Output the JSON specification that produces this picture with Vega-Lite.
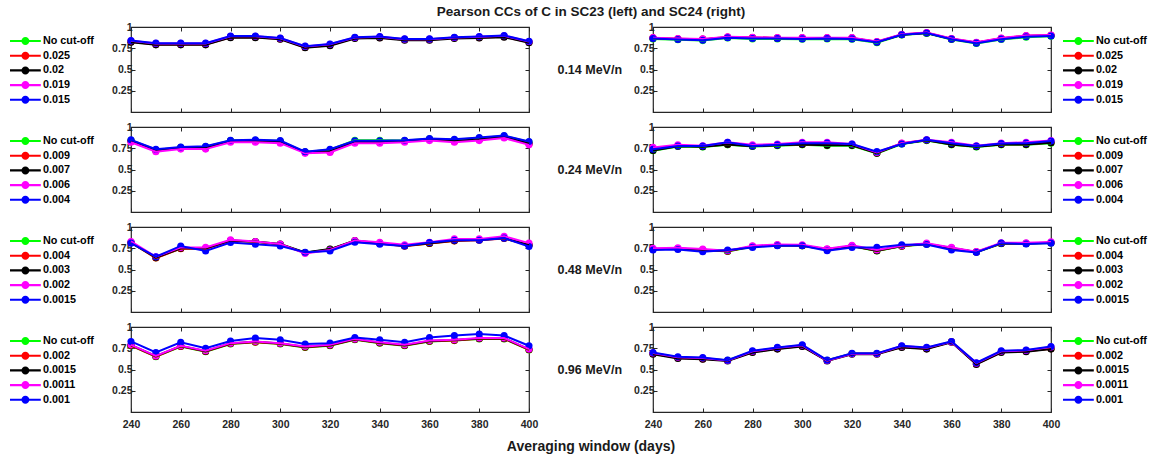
{
"$schema":"https://vega.github.io/schema/vega-lite/v6.json",
"background":"white",
"padding":{"left":9,"top":4,"right":5,"bottom":5},
"title":{"text":"Pearson CCs of C in SC23 (left) and SC24 (right)","fontSize":13.5,"font":"Liberation Sans","fontWeight":"bold","color":"#1a1a1a","anchor":"middle","frame":"group","offset":3,"dx":460},
"bounds":"flush",
"config":{
 "font":"Liberation Sans",
 "view":{"stroke":"#262626","strokeWidth":1.2},
 "axis":{"grid":false,"domain":false,"tickSize":-4,"tickColor":"#262626","tickWidth":1,"labelFlush":false,"labelFont":"Liberation Sans","labelFontWeight":"bold","labelFontSize":10.5,"labelColor":"#262626","labelPadding":3,"titleFont":"Liberation Sans","titleFontWeight":"bold","titleColor":"#1a1a1a"},
 "legend":{"title":null,"symbolType":"M-2.2,-0.15L2.2,-0.15L2.2,0.15L-2.2,0.15Z M-0.57,0A0.57,0.57 0 1,1 0.57,0A0.57,0.57 0 1,1 -0.57,0Z","symbolSize":196,"symbolOffset":8.4,"labelOffset":10.5,"rowPadding":2.7,"symbolStrokeWidth":0,"labelFont":"Liberation Sans","labelFontWeight":"bold","labelFontSize":10.8,"labelColor":"#000000","padding":0}
},
"datasets":{
"L1":[
{"s":"No cut-off","x":240,"y":0.83},{"s":"No cut-off","x":250,"y":0.80},{"s":"No cut-off","x":260,"y":0.80},{"s":"No cut-off","x":270,"y":0.80},{"s":"No cut-off","x":280,"y":0.885},{"s":"No cut-off","x":290,"y":0.885},{"s":"No cut-off","x":300,"y":0.865},{"s":"No cut-off","x":310,"y":0.765},{"s":"No cut-off","x":320,"y":0.79},{"s":"No cut-off","x":330,"y":0.875},{"s":"No cut-off","x":340,"y":0.88},{"s":"No cut-off","x":350,"y":0.855},{"s":"No cut-off","x":360,"y":0.855},{"s":"No cut-off","x":370,"y":0.875},{"s":"No cut-off","x":380,"y":0.88},{"s":"No cut-off","x":390,"y":0.89},{"s":"No cut-off","x":400,"y":0.825},
{"s":"0.025","x":240,"y":0.825},{"s":"0.025","x":250,"y":0.795},{"s":"0.025","x":260,"y":0.795},{"s":"0.025","x":270,"y":0.795},{"s":"0.025","x":280,"y":0.88},{"s":"0.025","x":290,"y":0.88},{"s":"0.025","x":300,"y":0.86},{"s":"0.025","x":310,"y":0.76},{"s":"0.025","x":320,"y":0.785},{"s":"0.025","x":330,"y":0.87},{"s":"0.025","x":340,"y":0.875},{"s":"0.025","x":350,"y":0.85},{"s":"0.025","x":360,"y":0.85},{"s":"0.025","x":370,"y":0.87},{"s":"0.025","x":380,"y":0.875},{"s":"0.025","x":390,"y":0.885},{"s":"0.025","x":400,"y":0.82},
{"s":"0.02","x":240,"y":0.82},{"s":"0.02","x":250,"y":0.79},{"s":"0.02","x":260,"y":0.79},{"s":"0.02","x":270,"y":0.79},{"s":"0.02","x":280,"y":0.875},{"s":"0.02","x":290,"y":0.875},{"s":"0.02","x":300,"y":0.855},{"s":"0.02","x":310,"y":0.755},{"s":"0.02","x":320,"y":0.78},{"s":"0.02","x":330,"y":0.865},{"s":"0.02","x":340,"y":0.87},{"s":"0.02","x":350,"y":0.845},{"s":"0.02","x":360,"y":0.845},{"s":"0.02","x":370,"y":0.865},{"s":"0.02","x":380,"y":0.87},{"s":"0.02","x":390,"y":0.88},{"s":"0.02","x":400,"y":0.815},
{"s":"0.019","x":240,"y":0.837},{"s":"0.019","x":250,"y":0.807},{"s":"0.019","x":260,"y":0.807},{"s":"0.019","x":270,"y":0.807},{"s":"0.019","x":280,"y":0.892},{"s":"0.019","x":290,"y":0.892},{"s":"0.019","x":300,"y":0.867},{"s":"0.019","x":310,"y":0.772},{"s":"0.019","x":320,"y":0.797},{"s":"0.019","x":330,"y":0.877},{"s":"0.019","x":340,"y":0.885},{"s":"0.019","x":350,"y":0.857},{"s":"0.019","x":360,"y":0.857},{"s":"0.019","x":370,"y":0.877},{"s":"0.019","x":380,"y":0.885},{"s":"0.019","x":390,"y":0.897},{"s":"0.019","x":400,"y":0.83},
{"s":"0.015","x":240,"y":0.84},{"s":"0.015","x":250,"y":0.81},{"s":"0.015","x":260,"y":0.81},{"s":"0.015","x":270,"y":0.81},{"s":"0.015","x":280,"y":0.895},{"s":"0.015","x":290,"y":0.895},{"s":"0.015","x":300,"y":0.87},{"s":"0.015","x":310,"y":0.775},{"s":"0.015","x":320,"y":0.80},{"s":"0.015","x":330,"y":0.88},{"s":"0.015","x":340,"y":0.888},{"s":"0.015","x":350,"y":0.86},{"s":"0.015","x":360,"y":0.86},{"s":"0.015","x":370,"y":0.88},{"s":"0.015","x":380,"y":0.888},{"s":"0.015","x":390,"y":0.90},{"s":"0.015","x":400,"y":0.833}
],
"R1":[
{"s":"No cut-off","x":240,"y":0.86},{"s":"No cut-off","x":250,"y":0.85},{"s":"No cut-off","x":260,"y":0.84},{"s":"No cut-off","x":270,"y":0.87},{"s":"No cut-off","x":280,"y":0.86},{"s":"No cut-off","x":290,"y":0.86},{"s":"No cut-off","x":300,"y":0.855},{"s":"No cut-off","x":310,"y":0.86},{"s":"No cut-off","x":320,"y":0.855},{"s":"No cut-off","x":330,"y":0.815},{"s":"No cut-off","x":340,"y":0.905},{"s":"No cut-off","x":350,"y":0.925},{"s":"No cut-off","x":360,"y":0.852},{"s":"No cut-off","x":370,"y":0.805},{"s":"No cut-off","x":380,"y":0.852},{"s":"No cut-off","x":390,"y":0.88},{"s":"No cut-off","x":400,"y":0.89},
{"s":"0.025","x":240,"y":0.872},{"s":"0.025","x":250,"y":0.862},{"s":"0.025","x":260,"y":0.857},{"s":"0.025","x":270,"y":0.882},{"s":"0.025","x":280,"y":0.877},{"s":"0.025","x":290,"y":0.872},{"s":"0.025","x":300,"y":0.872},{"s":"0.025","x":310,"y":0.872},{"s":"0.025","x":320,"y":0.872},{"s":"0.025","x":330,"y":0.827},{"s":"0.025","x":340,"y":0.912},{"s":"0.025","x":350,"y":0.932},{"s":"0.025","x":360,"y":0.862},{"s":"0.025","x":370,"y":0.817},{"s":"0.025","x":380,"y":0.867},{"s":"0.025","x":390,"y":0.897},{"s":"0.025","x":400,"y":0.902},
{"s":"0.02","x":240,"y":0.869},{"s":"0.02","x":250,"y":0.859},{"s":"0.02","x":260,"y":0.854},{"s":"0.02","x":270,"y":0.879},{"s":"0.02","x":280,"y":0.874},{"s":"0.02","x":290,"y":0.869},{"s":"0.02","x":300,"y":0.869},{"s":"0.02","x":310,"y":0.869},{"s":"0.02","x":320,"y":0.869},{"s":"0.02","x":330,"y":0.824},{"s":"0.02","x":340,"y":0.909},{"s":"0.02","x":350,"y":0.929},{"s":"0.02","x":360,"y":0.859},{"s":"0.02","x":370,"y":0.814},{"s":"0.02","x":380,"y":0.864},{"s":"0.02","x":390,"y":0.894},{"s":"0.02","x":400,"y":0.899},
{"s":"0.019","x":240,"y":0.875},{"s":"0.019","x":250,"y":0.865},{"s":"0.019","x":260,"y":0.86},{"s":"0.019","x":270,"y":0.885},{"s":"0.019","x":280,"y":0.88},{"s":"0.019","x":290,"y":0.875},{"s":"0.019","x":300,"y":0.875},{"s":"0.019","x":310,"y":0.875},{"s":"0.019","x":320,"y":0.875},{"s":"0.019","x":330,"y":0.83},{"s":"0.019","x":340,"y":0.915},{"s":"0.019","x":350,"y":0.935},{"s":"0.019","x":360,"y":0.865},{"s":"0.019","x":370,"y":0.82},{"s":"0.019","x":380,"y":0.87},{"s":"0.019","x":390,"y":0.90},{"s":"0.019","x":400,"y":0.905},
{"s":"0.015","x":240,"y":0.865},{"s":"0.015","x":250,"y":0.853},{"s":"0.015","x":260,"y":0.845},{"s":"0.015","x":270,"y":0.873},{"s":"0.015","x":280,"y":0.865},{"s":"0.015","x":290,"y":0.865},{"s":"0.015","x":300,"y":0.86},{"s":"0.015","x":310,"y":0.865},{"s":"0.015","x":320,"y":0.86},{"s":"0.015","x":330,"y":0.82},{"s":"0.015","x":340,"y":0.908},{"s":"0.015","x":350,"y":0.93},{"s":"0.015","x":360,"y":0.857},{"s":"0.015","x":370,"y":0.81},{"s":"0.015","x":380,"y":0.857},{"s":"0.015","x":390,"y":0.885},{"s":"0.015","x":400,"y":0.895}
],
"L2":[
{"s":"No cut-off","x":240,"y":0.844},{"s":"No cut-off","x":250,"y":0.733},{"s":"No cut-off","x":260,"y":0.76},{"s":"No cut-off","x":270,"y":0.769},{"s":"No cut-off","x":280,"y":0.84},{"s":"No cut-off","x":290,"y":0.845},{"s":"No cut-off","x":300,"y":0.835},{"s":"No cut-off","x":310,"y":0.705},{"s":"No cut-off","x":320,"y":0.733},{"s":"No cut-off","x":330,"y":0.845},{"s":"No cut-off","x":340,"y":0.845},{"s":"No cut-off","x":350,"y":0.84},{"s":"No cut-off","x":360,"y":0.86},{"s":"No cut-off","x":370,"y":0.85},{"s":"No cut-off","x":380,"y":0.871},{"s":"No cut-off","x":390,"y":0.895},{"s":"No cut-off","x":400,"y":0.824},
{"s":"0.009","x":240,"y":0.83},{"s":"0.009","x":250,"y":0.72},{"s":"0.009","x":260,"y":0.75},{"s":"0.009","x":270,"y":0.75},{"s":"0.009","x":280,"y":0.83},{"s":"0.009","x":290,"y":0.83},{"s":"0.009","x":300,"y":0.82},{"s":"0.009","x":310,"y":0.70},{"s":"0.009","x":320,"y":0.71},{"s":"0.009","x":330,"y":0.82},{"s":"0.009","x":340,"y":0.82},{"s":"0.009","x":350,"y":0.83},{"s":"0.009","x":360,"y":0.85},{"s":"0.009","x":370,"y":0.83},{"s":"0.009","x":380,"y":0.85},{"s":"0.009","x":390,"y":0.88},{"s":"0.009","x":400,"y":0.80},
{"s":"0.007","x":240,"y":0.835},{"s":"0.007","x":250,"y":0.725},{"s":"0.007","x":260,"y":0.755},{"s":"0.007","x":270,"y":0.755},{"s":"0.007","x":280,"y":0.835},{"s":"0.007","x":290,"y":0.835},{"s":"0.007","x":300,"y":0.825},{"s":"0.007","x":310,"y":0.705},{"s":"0.007","x":320,"y":0.715},{"s":"0.007","x":330,"y":0.825},{"s":"0.007","x":340,"y":0.825},{"s":"0.007","x":350,"y":0.835},{"s":"0.007","x":360,"y":0.855},{"s":"0.007","x":370,"y":0.835},{"s":"0.007","x":380,"y":0.855},{"s":"0.007","x":390,"y":0.885},{"s":"0.007","x":400,"y":0.805},
{"s":"0.006","x":240,"y":0.82},{"s":"0.006","x":250,"y":0.71},{"s":"0.006","x":260,"y":0.74},{"s":"0.006","x":270,"y":0.74},{"s":"0.006","x":280,"y":0.82},{"s":"0.006","x":290,"y":0.82},{"s":"0.006","x":300,"y":0.81},{"s":"0.006","x":310,"y":0.69},{"s":"0.006","x":320,"y":0.70},{"s":"0.006","x":330,"y":0.81},{"s":"0.006","x":340,"y":0.81},{"s":"0.006","x":350,"y":0.82},{"s":"0.006","x":360,"y":0.84},{"s":"0.006","x":370,"y":0.82},{"s":"0.006","x":380,"y":0.84},{"s":"0.006","x":390,"y":0.87},{"s":"0.006","x":400,"y":0.79},
{"s":"0.004","x":240,"y":0.849},{"s":"0.004","x":250,"y":0.738},{"s":"0.004","x":260,"y":0.765},{"s":"0.004","x":270,"y":0.774},{"s":"0.004","x":280,"y":0.845},{"s":"0.004","x":290,"y":0.85},{"s":"0.004","x":300,"y":0.84},{"s":"0.004","x":310,"y":0.71},{"s":"0.004","x":320,"y":0.738},{"s":"0.004","x":330,"y":0.837},{"s":"0.004","x":340,"y":0.837},{"s":"0.004","x":350,"y":0.845},{"s":"0.004","x":360,"y":0.865},{"s":"0.004","x":370,"y":0.855},{"s":"0.004","x":380,"y":0.876},{"s":"0.004","x":390,"y":0.90},{"s":"0.004","x":400,"y":0.829}
],
"R2":[
{"s":"No cut-off","x":240,"y":0.72},{"s":"No cut-off","x":250,"y":0.77},{"s":"No cut-off","x":260,"y":0.765},{"s":"No cut-off","x":270,"y":0.79},{"s":"No cut-off","x":280,"y":0.77},{"s":"No cut-off","x":290,"y":0.78},{"s":"No cut-off","x":300,"y":0.79},{"s":"No cut-off","x":310,"y":0.78},{"s":"No cut-off","x":320,"y":0.78},{"s":"No cut-off","x":330,"y":0.69},{"s":"No cut-off","x":340,"y":0.80},{"s":"No cut-off","x":350,"y":0.84},{"s":"No cut-off","x":360,"y":0.79},{"s":"No cut-off","x":370,"y":0.765},{"s":"No cut-off","x":380,"y":0.79},{"s":"No cut-off","x":390,"y":0.79},{"s":"No cut-off","x":400,"y":0.81},
{"s":"0.009","x":240,"y":0.728},{"s":"0.009","x":250,"y":0.778},{"s":"0.009","x":260,"y":0.773},{"s":"0.009","x":270,"y":0.798},{"s":"0.009","x":280,"y":0.778},{"s":"0.009","x":290,"y":0.788},{"s":"0.009","x":300,"y":0.798},{"s":"0.009","x":310,"y":0.788},{"s":"0.009","x":320,"y":0.788},{"s":"0.009","x":330,"y":0.695},{"s":"0.009","x":340,"y":0.808},{"s":"0.009","x":350,"y":0.848},{"s":"0.009","x":360,"y":0.798},{"s":"0.009","x":370,"y":0.773},{"s":"0.009","x":380,"y":0.798},{"s":"0.009","x":390,"y":0.798},{"s":"0.009","x":400,"y":0.818},
{"s":"0.007","x":240,"y":0.724},{"s":"0.007","x":250,"y":0.774},{"s":"0.007","x":260,"y":0.769},{"s":"0.007","x":270,"y":0.794},{"s":"0.007","x":280,"y":0.774},{"s":"0.007","x":290,"y":0.784},{"s":"0.007","x":300,"y":0.794},{"s":"0.007","x":310,"y":0.784},{"s":"0.007","x":320,"y":0.784},{"s":"0.007","x":330,"y":0.692},{"s":"0.007","x":340,"y":0.804},{"s":"0.007","x":350,"y":0.844},{"s":"0.007","x":360,"y":0.794},{"s":"0.007","x":370,"y":0.769},{"s":"0.007","x":380,"y":0.794},{"s":"0.007","x":390,"y":0.794},{"s":"0.007","x":400,"y":0.814},
{"s":"0.006","x":240,"y":0.76},{"s":"0.006","x":250,"y":0.79},{"s":"0.006","x":260,"y":0.78},{"s":"0.006","x":270,"y":0.82},{"s":"0.006","x":280,"y":0.79},{"s":"0.006","x":290,"y":0.80},{"s":"0.006","x":300,"y":0.82},{"s":"0.006","x":310,"y":0.82},{"s":"0.006","x":320,"y":0.80},{"s":"0.006","x":330,"y":0.70},{"s":"0.006","x":340,"y":0.81},{"s":"0.006","x":350,"y":0.85},{"s":"0.006","x":360,"y":0.82},{"s":"0.006","x":370,"y":0.78},{"s":"0.006","x":380,"y":0.81},{"s":"0.006","x":390,"y":0.82},{"s":"0.006","x":400,"y":0.84},
{"s":"0.004","x":240,"y":0.738},{"s":"0.004","x":250,"y":0.777},{"s":"0.004","x":260,"y":0.777},{"s":"0.004","x":270,"y":0.82},{"s":"0.004","x":280,"y":0.777},{"s":"0.004","x":290,"y":0.79},{"s":"0.004","x":300,"y":0.81},{"s":"0.004","x":310,"y":0.81},{"s":"0.004","x":320,"y":0.80},{"s":"0.004","x":330,"y":0.71},{"s":"0.004","x":340,"y":0.80},{"s":"0.004","x":350,"y":0.849},{"s":"0.004","x":360,"y":0.81},{"s":"0.004","x":370,"y":0.777},{"s":"0.004","x":380,"y":0.805},{"s":"0.004","x":390,"y":0.81},{"s":"0.004","x":400,"y":0.835}
],
"L3":[
{"s":"No cut-off","x":240,"y":0.817},{"s":"No cut-off","x":250,"y":0.637},{"s":"No cut-off","x":260,"y":0.747},{"s":"No cut-off","x":270,"y":0.747},{"s":"No cut-off","x":280,"y":0.837},{"s":"No cut-off","x":290,"y":0.827},{"s":"No cut-off","x":300,"y":0.797},{"s":"No cut-off","x":310,"y":0.697},{"s":"No cut-off","x":320,"y":0.737},{"s":"No cut-off","x":330,"y":0.837},{"s":"No cut-off","x":340,"y":0.807},{"s":"No cut-off","x":350,"y":0.777},{"s":"No cut-off","x":360,"y":0.807},{"s":"No cut-off","x":370,"y":0.837},{"s":"No cut-off","x":380,"y":0.847},{"s":"No cut-off","x":390,"y":0.867},{"s":"No cut-off","x":400,"y":0.787},
{"s":"0.004","x":240,"y":0.815},{"s":"0.004","x":250,"y":0.635},{"s":"0.004","x":260,"y":0.745},{"s":"0.004","x":270,"y":0.745},{"s":"0.004","x":280,"y":0.835},{"s":"0.004","x":290,"y":0.825},{"s":"0.004","x":300,"y":0.795},{"s":"0.004","x":310,"y":0.695},{"s":"0.004","x":320,"y":0.735},{"s":"0.004","x":330,"y":0.835},{"s":"0.004","x":340,"y":0.805},{"s":"0.004","x":350,"y":0.775},{"s":"0.004","x":360,"y":0.805},{"s":"0.004","x":370,"y":0.835},{"s":"0.004","x":380,"y":0.845},{"s":"0.004","x":390,"y":0.865},{"s":"0.004","x":400,"y":0.785},
{"s":"0.003","x":240,"y":0.82},{"s":"0.003","x":250,"y":0.64},{"s":"0.003","x":260,"y":0.75},{"s":"0.003","x":270,"y":0.75},{"s":"0.003","x":280,"y":0.84},{"s":"0.003","x":290,"y":0.83},{"s":"0.003","x":300,"y":0.80},{"s":"0.003","x":310,"y":0.70},{"s":"0.003","x":320,"y":0.74},{"s":"0.003","x":330,"y":0.84},{"s":"0.003","x":340,"y":0.81},{"s":"0.003","x":350,"y":0.78},{"s":"0.003","x":360,"y":0.81},{"s":"0.003","x":370,"y":0.84},{"s":"0.003","x":380,"y":0.85},{"s":"0.003","x":390,"y":0.87},{"s":"0.003","x":400,"y":0.79},
{"s":"0.002","x":240,"y":0.83},{"s":"0.002","x":250,"y":0.65},{"s":"0.002","x":260,"y":0.76},{"s":"0.002","x":270,"y":0.76},{"s":"0.002","x":280,"y":0.85},{"s":"0.002","x":290,"y":0.83},{"s":"0.002","x":300,"y":0.80},{"s":"0.002","x":310,"y":0.69},{"s":"0.002","x":320,"y":0.73},{"s":"0.002","x":330,"y":0.84},{"s":"0.002","x":340,"y":0.82},{"s":"0.002","x":350,"y":0.79},{"s":"0.002","x":360,"y":0.82},{"s":"0.002","x":370,"y":0.86},{"s":"0.002","x":380,"y":0.86},{"s":"0.002","x":390,"y":0.89},{"s":"0.002","x":400,"y":0.81},
{"s":"0.0015","x":240,"y":0.81},{"s":"0.0015","x":250,"y":0.65},{"s":"0.0015","x":260,"y":0.777},{"s":"0.0015","x":270,"y":0.718},{"s":"0.0015","x":280,"y":0.817},{"s":"0.0015","x":290,"y":0.797},{"s":"0.0015","x":300,"y":0.777},{"s":"0.0015","x":310,"y":0.702},{"s":"0.0015","x":320,"y":0.718},{"s":"0.0015","x":330,"y":0.82},{"s":"0.0015","x":340,"y":0.797},{"s":"0.0015","x":350,"y":0.777},{"s":"0.0015","x":360,"y":0.817},{"s":"0.0015","x":370,"y":0.845},{"s":"0.0015","x":380,"y":0.845},{"s":"0.0015","x":390,"y":0.869},{"s":"0.0015","x":400,"y":0.77}
],
"R3":[
{"s":"No cut-off","x":240,"y":0.738},{"s":"No cut-off","x":250,"y":0.743},{"s":"No cut-off","x":260,"y":0.728},{"s":"No cut-off","x":270,"y":0.713},{"s":"No cut-off","x":280,"y":0.768},{"s":"No cut-off","x":290,"y":0.783},{"s":"No cut-off","x":300,"y":0.778},{"s":"No cut-off","x":310,"y":0.733},{"s":"No cut-off","x":320,"y":0.773},{"s":"No cut-off","x":330,"y":0.718},{"s":"No cut-off","x":340,"y":0.773},{"s":"No cut-off","x":350,"y":0.798},{"s":"No cut-off","x":360,"y":0.748},{"s":"No cut-off","x":370,"y":0.703},{"s":"No cut-off","x":380,"y":0.803},{"s":"No cut-off","x":390,"y":0.803},{"s":"No cut-off","x":400,"y":0.813},
{"s":"0.004","x":240,"y":0.74},{"s":"0.004","x":250,"y":0.745},{"s":"0.004","x":260,"y":0.73},{"s":"0.004","x":270,"y":0.715},{"s":"0.004","x":280,"y":0.77},{"s":"0.004","x":290,"y":0.785},{"s":"0.004","x":300,"y":0.78},{"s":"0.004","x":310,"y":0.735},{"s":"0.004","x":320,"y":0.775},{"s":"0.004","x":330,"y":0.72},{"s":"0.004","x":340,"y":0.775},{"s":"0.004","x":350,"y":0.80},{"s":"0.004","x":360,"y":0.75},{"s":"0.004","x":370,"y":0.705},{"s":"0.004","x":380,"y":0.805},{"s":"0.004","x":390,"y":0.805},{"s":"0.004","x":400,"y":0.815},
{"s":"0.003","x":240,"y":0.742},{"s":"0.003","x":250,"y":0.747},{"s":"0.003","x":260,"y":0.732},{"s":"0.003","x":270,"y":0.717},{"s":"0.003","x":280,"y":0.772},{"s":"0.003","x":290,"y":0.787},{"s":"0.003","x":300,"y":0.782},{"s":"0.003","x":310,"y":0.737},{"s":"0.003","x":320,"y":0.777},{"s":"0.003","x":330,"y":0.722},{"s":"0.003","x":340,"y":0.777},{"s":"0.003","x":350,"y":0.802},{"s":"0.003","x":360,"y":0.752},{"s":"0.003","x":370,"y":0.707},{"s":"0.003","x":380,"y":0.807},{"s":"0.003","x":390,"y":0.807},{"s":"0.003","x":400,"y":0.817},
{"s":"0.002","x":240,"y":0.75},{"s":"0.002","x":250,"y":0.755},{"s":"0.002","x":260,"y":0.74},{"s":"0.002","x":270,"y":0.72},{"s":"0.002","x":280,"y":0.78},{"s":"0.002","x":290,"y":0.795},{"s":"0.002","x":300,"y":0.79},{"s":"0.002","x":310,"y":0.745},{"s":"0.002","x":320,"y":0.785},{"s":"0.002","x":330,"y":0.73},{"s":"0.002","x":340,"y":0.78},{"s":"0.002","x":350,"y":0.81},{"s":"0.002","x":360,"y":0.76},{"s":"0.002","x":370,"y":0.71},{"s":"0.002","x":380,"y":0.815},{"s":"0.002","x":390,"y":0.815},{"s":"0.002","x":400,"y":0.825},
{"s":"0.0015","x":240,"y":0.73},{"s":"0.0015","x":250,"y":0.735},{"s":"0.0015","x":260,"y":0.71},{"s":"0.0015","x":270,"y":0.73},{"s":"0.0015","x":280,"y":0.76},{"s":"0.0015","x":290,"y":0.78},{"s":"0.0015","x":300,"y":0.78},{"s":"0.0015","x":310,"y":0.72},{"s":"0.0015","x":320,"y":0.76},{"s":"0.0015","x":330,"y":0.76},{"s":"0.0015","x":340,"y":0.79},{"s":"0.0015","x":350,"y":0.795},{"s":"0.0015","x":360,"y":0.73},{"s":"0.0015","x":370,"y":0.70},{"s":"0.0015","x":380,"y":0.81},{"s":"0.0015","x":390,"y":0.80},{"s":"0.0015","x":400,"y":0.81}
],
"L4":[
{"s":"No cut-off","x":240,"y":0.78},{"s":"No cut-off","x":250,"y":0.65},{"s":"No cut-off","x":260,"y":0.77},{"s":"No cut-off","x":270,"y":0.71},{"s":"No cut-off","x":280,"y":0.80},{"s":"No cut-off","x":290,"y":0.82},{"s":"No cut-off","x":300,"y":0.80},{"s":"No cut-off","x":310,"y":0.76},{"s":"No cut-off","x":320,"y":0.78},{"s":"No cut-off","x":330,"y":0.85},{"s":"No cut-off","x":340,"y":0.81},{"s":"No cut-off","x":350,"y":0.78},{"s":"No cut-off","x":360,"y":0.83},{"s":"No cut-off","x":370,"y":0.84},{"s":"No cut-off","x":380,"y":0.86},{"s":"No cut-off","x":390,"y":0.86},{"s":"No cut-off","x":400,"y":0.73},
{"s":"0.002","x":240,"y":0.782},{"s":"0.002","x":250,"y":0.652},{"s":"0.002","x":260,"y":0.772},{"s":"0.002","x":270,"y":0.712},{"s":"0.002","x":280,"y":0.802},{"s":"0.002","x":290,"y":0.822},{"s":"0.002","x":300,"y":0.802},{"s":"0.002","x":310,"y":0.762},{"s":"0.002","x":320,"y":0.782},{"s":"0.002","x":330,"y":0.852},{"s":"0.002","x":340,"y":0.812},{"s":"0.002","x":350,"y":0.782},{"s":"0.002","x":360,"y":0.832},{"s":"0.002","x":370,"y":0.842},{"s":"0.002","x":380,"y":0.862},{"s":"0.002","x":390,"y":0.862},{"s":"0.002","x":400,"y":0.732},
{"s":"0.0015","x":240,"y":0.786},{"s":"0.0015","x":250,"y":0.656},{"s":"0.0015","x":260,"y":0.776},{"s":"0.0015","x":270,"y":0.716},{"s":"0.0015","x":280,"y":0.806},{"s":"0.0015","x":290,"y":0.826},{"s":"0.0015","x":300,"y":0.806},{"s":"0.0015","x":310,"y":0.766},{"s":"0.0015","x":320,"y":0.786},{"s":"0.0015","x":330,"y":0.856},{"s":"0.0015","x":340,"y":0.816},{"s":"0.0015","x":350,"y":0.786},{"s":"0.0015","x":360,"y":0.836},{"s":"0.0015","x":370,"y":0.846},{"s":"0.0015","x":380,"y":0.866},{"s":"0.0015","x":390,"y":0.866},{"s":"0.0015","x":400,"y":0.736},
{"s":"0.0011","x":240,"y":0.79},{"s":"0.0011","x":250,"y":0.66},{"s":"0.0011","x":260,"y":0.78},{"s":"0.0011","x":270,"y":0.72},{"s":"0.0011","x":280,"y":0.81},{"s":"0.0011","x":290,"y":0.83},{"s":"0.0011","x":300,"y":0.81},{"s":"0.0011","x":310,"y":0.77},{"s":"0.0011","x":320,"y":0.79},{"s":"0.0011","x":330,"y":0.86},{"s":"0.0011","x":340,"y":0.82},{"s":"0.0011","x":350,"y":0.79},{"s":"0.0011","x":360,"y":0.84},{"s":"0.0011","x":370,"y":0.85},{"s":"0.0011","x":380,"y":0.87},{"s":"0.0011","x":390,"y":0.87},{"s":"0.0011","x":400,"y":0.74},
{"s":"0.001","x":240,"y":0.83},{"s":"0.001","x":250,"y":0.70},{"s":"0.001","x":260,"y":0.82},{"s":"0.001","x":270,"y":0.75},{"s":"0.001","x":280,"y":0.835},{"s":"0.001","x":290,"y":0.87},{"s":"0.001","x":300,"y":0.85},{"s":"0.001","x":310,"y":0.80},{"s":"0.001","x":320,"y":0.81},{"s":"0.001","x":330,"y":0.877},{"s":"0.001","x":340,"y":0.85},{"s":"0.001","x":350,"y":0.82},{"s":"0.001","x":360,"y":0.877},{"s":"0.001","x":370,"y":0.90},{"s":"0.001","x":380,"y":0.918},{"s":"0.001","x":390,"y":0.90},{"s":"0.001","x":400,"y":0.78}
],
"R4":[
{"s":"No cut-off","x":240,"y":0.688},{"s":"No cut-off","x":250,"y":0.638},{"s":"No cut-off","x":260,"y":0.628},{"s":"No cut-off","x":270,"y":0.608},{"s":"No cut-off","x":280,"y":0.708},{"s":"No cut-off","x":290,"y":0.748},{"s":"No cut-off","x":300,"y":0.778},{"s":"No cut-off","x":310,"y":0.608},{"s":"No cut-off","x":320,"y":0.688},{"s":"No cut-off","x":330,"y":0.688},{"s":"No cut-off","x":340,"y":0.768},{"s":"No cut-off","x":350,"y":0.748},{"s":"No cut-off","x":360,"y":0.828},{"s":"No cut-off","x":370,"y":0.568},{"s":"No cut-off","x":380,"y":0.708},{"s":"No cut-off","x":390,"y":0.718},{"s":"No cut-off","x":400,"y":0.748},
{"s":"0.002","x":240,"y":0.685},{"s":"0.002","x":250,"y":0.635},{"s":"0.002","x":260,"y":0.625},{"s":"0.002","x":270,"y":0.605},{"s":"0.002","x":280,"y":0.705},{"s":"0.002","x":290,"y":0.745},{"s":"0.002","x":300,"y":0.775},{"s":"0.002","x":310,"y":0.605},{"s":"0.002","x":320,"y":0.685},{"s":"0.002","x":330,"y":0.685},{"s":"0.002","x":340,"y":0.765},{"s":"0.002","x":350,"y":0.745},{"s":"0.002","x":360,"y":0.825},{"s":"0.002","x":370,"y":0.565},{"s":"0.002","x":380,"y":0.705},{"s":"0.002","x":390,"y":0.715},{"s":"0.002","x":400,"y":0.745},
{"s":"0.0015","x":240,"y":0.68},{"s":"0.0015","x":250,"y":0.63},{"s":"0.0015","x":260,"y":0.62},{"s":"0.0015","x":270,"y":0.60},{"s":"0.0015","x":280,"y":0.70},{"s":"0.0015","x":290,"y":0.74},{"s":"0.0015","x":300,"y":0.77},{"s":"0.0015","x":310,"y":0.60},{"s":"0.0015","x":320,"y":0.68},{"s":"0.0015","x":330,"y":0.68},{"s":"0.0015","x":340,"y":0.76},{"s":"0.0015","x":350,"y":0.74},{"s":"0.0015","x":360,"y":0.82},{"s":"0.0015","x":370,"y":0.56},{"s":"0.0015","x":380,"y":0.70},{"s":"0.0015","x":390,"y":0.71},{"s":"0.0015","x":400,"y":0.74},
{"s":"0.0011","x":240,"y":0.695},{"s":"0.0011","x":250,"y":0.645},{"s":"0.0011","x":260,"y":0.635},{"s":"0.0011","x":270,"y":0.605},{"s":"0.0011","x":280,"y":0.715},{"s":"0.0011","x":290,"y":0.755},{"s":"0.0011","x":300,"y":0.785},{"s":"0.0011","x":310,"y":0.605},{"s":"0.0011","x":320,"y":0.685},{"s":"0.0011","x":330,"y":0.685},{"s":"0.0011","x":340,"y":0.775},{"s":"0.0011","x":350,"y":0.755},{"s":"0.0011","x":360,"y":0.825},{"s":"0.0011","x":370,"y":0.575},{"s":"0.0011","x":380,"y":0.715},{"s":"0.0011","x":390,"y":0.725},{"s":"0.0011","x":400,"y":0.765},
{"s":"0.001","x":240,"y":0.70},{"s":"0.001","x":250,"y":0.65},{"s":"0.001","x":260,"y":0.64},{"s":"0.001","x":270,"y":0.61},{"s":"0.001","x":280,"y":0.72},{"s":"0.001","x":290,"y":0.76},{"s":"0.001","x":300,"y":0.79},{"s":"0.001","x":310,"y":0.61},{"s":"0.001","x":320,"y":0.69},{"s":"0.001","x":330,"y":0.69},{"s":"0.001","x":340,"y":0.78},{"s":"0.001","x":350,"y":0.76},{"s":"0.001","x":360,"y":0.83},{"s":"0.001","x":370,"y":0.58},{"s":"0.001","x":380,"y":0.72},{"s":"0.001","x":390,"y":0.73},{"s":"0.001","x":400,"y":0.77}
]
},
"vconcat":[{
"title":{"text":"Averaging window (days)","orient":"bottom","fontSize":14,"font":"Liberation Sans","fontWeight":"bold","color":"#1a1a1a","anchor":"middle","frame":"group","offset":10,"dx":460},
"columns":2,
"spacing":{"row":15,"column":124},
"bounds":"flush",
"resolve":{"scale":{"color":"independent"}},
"concat":[
{"width":398,"height":85,"data":{"name":"L1"},"layer":[
 {"mark":{"type":"point","filled":true,"size":50,"opacity":1,"clip":false},"encoding":{
  "x":{"field":"x","type":"quantitative","scale":{"domain":[240,400],"nice":false,"zero":false},"axis":{"values":[240,260,280,300,320,340,360,380,400],"labels":false,"title":null}},
  "y":{"field":"y","type":"quantitative","scale":{"domain":[0,1],"nice":false},"axis":{"values":[0.25,0.5,0.75,1],"labelExpr":"''+datum.value","title":null}},
  "color":{"field":"s","type":"nominal","scale":{"domain":["No cut-off","0.025","0.02","0.019","0.015"],"range":["#00ff00","#ff0000","#000000","#ff00ff","#0000ff"]},"legend":{"orient":"none","legendX":-121,"legendY":7}}}},
 {"mark":{"type":"line","strokeWidth":2,"clip":false},"encoding":{
  "x":{"field":"x","type":"quantitative","scale":{"domain":[240,400],"nice":false,"zero":false},"axis":{"orient":"top","values":[240,260,280,300,320,340,360,380,400],"labels":false,"title":null}},
  "y":{"field":"y","type":"quantitative","scale":{"domain":[0,1],"nice":false},"axis":{"orient":"right","values":[0.25,0.5,0.75,1],"labels":false,"title":null}},
  "color":{"field":"s","type":"nominal","scale":{"domain":["No cut-off","0.025","0.02","0.019","0.015"],"range":["#00ff00","#ff0000","#000000","#ff00ff","#0000ff"]},"legend":{"orient":"none","legendX":-121,"legendY":7}}}}
 ],"resolve":{"axis":{"x":"independent","y":"independent"}}},
{"width":398,"height":85,"data":{"name":"R1"},"layer":[
 {"mark":{"type":"point","filled":true,"size":50,"opacity":1,"clip":false},"encoding":{
  "x":{"field":"x","type":"quantitative","scale":{"domain":[240,400],"nice":false,"zero":false},"axis":{"values":[240,260,280,300,320,340,360,380,400],"labels":false,"title":null}},
  "y":{"field":"y","type":"quantitative","scale":{"domain":[0,1],"nice":false},"axis":{"values":[0.25,0.5,0.75,1],"labelExpr":"''+datum.value","title":"0.14 MeV/n","titleAngle":0,"titleAlign":"right","titleBaseline":"middle","titlePadding":12,"titleFontSize":12.5}},
  "color":{"field":"s","type":"nominal","scale":{"domain":["No cut-off","0.025","0.02","0.019","0.015"],"range":["#00ff00","#ff0000","#000000","#ff00ff","#0000ff"]},"legend":{"orient":"none","legendX":410,"legendY":7}}}},
 {"mark":{"type":"line","strokeWidth":2,"clip":false},"encoding":{
  "x":{"field":"x","type":"quantitative","scale":{"domain":[240,400],"nice":false,"zero":false},"axis":{"orient":"top","values":[240,260,280,300,320,340,360,380,400],"labels":false,"title":null}},
  "y":{"field":"y","type":"quantitative","scale":{"domain":[0,1],"nice":false},"axis":{"orient":"right","values":[0.25,0.5,0.75,1],"labels":false,"title":null}},
  "color":{"field":"s","type":"nominal","scale":{"domain":["No cut-off","0.025","0.02","0.019","0.015"],"range":["#00ff00","#ff0000","#000000","#ff00ff","#0000ff"]},"legend":{"orient":"none","legendX":410,"legendY":7}}}}
 ],"resolve":{"axis":{"x":"independent","y":"independent"}}},
{"width":398,"height":85,"data":{"name":"L2"},"layer":[
 {"mark":{"type":"point","filled":true,"size":50,"opacity":1,"clip":false},"encoding":{
  "x":{"field":"x","type":"quantitative","scale":{"domain":[240,400],"nice":false,"zero":false},"axis":{"values":[240,260,280,300,320,340,360,380,400],"labels":false,"title":null}},
  "y":{"field":"y","type":"quantitative","scale":{"domain":[0,1],"nice":false},"axis":{"values":[0.25,0.5,0.75,1],"labelExpr":"''+datum.value","title":null}},
  "color":{"field":"s","type":"nominal","scale":{"domain":["No cut-off","0.009","0.007","0.006","0.004"],"range":["#00ff00","#ff0000","#000000","#ff00ff","#0000ff"]},"legend":{"orient":"none","legendX":-121,"legendY":7}}}},
 {"mark":{"type":"line","strokeWidth":2,"clip":false},"encoding":{
  "x":{"field":"x","type":"quantitative","scale":{"domain":[240,400],"nice":false,"zero":false},"axis":{"orient":"top","values":[240,260,280,300,320,340,360,380,400],"labels":false,"title":null}},
  "y":{"field":"y","type":"quantitative","scale":{"domain":[0,1],"nice":false},"axis":{"orient":"right","values":[0.25,0.5,0.75,1],"labels":false,"title":null}},
  "color":{"field":"s","type":"nominal","scale":{"domain":["No cut-off","0.009","0.007","0.006","0.004"],"range":["#00ff00","#ff0000","#000000","#ff00ff","#0000ff"]},"legend":{"orient":"none","legendX":-121,"legendY":7}}}}
 ],"resolve":{"axis":{"x":"independent","y":"independent"}}},
{"width":398,"height":85,"data":{"name":"R2"},"layer":[
 {"mark":{"type":"point","filled":true,"size":50,"opacity":1,"clip":false},"encoding":{
  "x":{"field":"x","type":"quantitative","scale":{"domain":[240,400],"nice":false,"zero":false},"axis":{"values":[240,260,280,300,320,340,360,380,400],"labels":false,"title":null}},
  "y":{"field":"y","type":"quantitative","scale":{"domain":[0,1],"nice":false},"axis":{"values":[0.25,0.5,0.75,1],"labelExpr":"''+datum.value","title":"0.24 MeV/n","titleAngle":0,"titleAlign":"right","titleBaseline":"middle","titlePadding":12,"titleFontSize":12.5}},
  "color":{"field":"s","type":"nominal","scale":{"domain":["No cut-off","0.009","0.007","0.006","0.004"],"range":["#00ff00","#ff0000","#000000","#ff00ff","#0000ff"]},"legend":{"orient":"none","legendX":410,"legendY":7}}}},
 {"mark":{"type":"line","strokeWidth":2,"clip":false},"encoding":{
  "x":{"field":"x","type":"quantitative","scale":{"domain":[240,400],"nice":false,"zero":false},"axis":{"orient":"top","values":[240,260,280,300,320,340,360,380,400],"labels":false,"title":null}},
  "y":{"field":"y","type":"quantitative","scale":{"domain":[0,1],"nice":false},"axis":{"orient":"right","values":[0.25,0.5,0.75,1],"labels":false,"title":null}},
  "color":{"field":"s","type":"nominal","scale":{"domain":["No cut-off","0.009","0.007","0.006","0.004"],"range":["#00ff00","#ff0000","#000000","#ff00ff","#0000ff"]},"legend":{"orient":"none","legendX":410,"legendY":7}}}}
 ],"resolve":{"axis":{"x":"independent","y":"independent"}}},
{"width":398,"height":85,"data":{"name":"L3"},"layer":[
 {"mark":{"type":"point","filled":true,"size":50,"opacity":1,"clip":false},"encoding":{
  "x":{"field":"x","type":"quantitative","scale":{"domain":[240,400],"nice":false,"zero":false},"axis":{"values":[240,260,280,300,320,340,360,380,400],"labels":false,"title":null}},
  "y":{"field":"y","type":"quantitative","scale":{"domain":[0,1],"nice":false},"axis":{"values":[0.25,0.5,0.75,1],"labelExpr":"''+datum.value","title":null}},
  "color":{"field":"s","type":"nominal","scale":{"domain":["No cut-off","0.004","0.003","0.002","0.0015"],"range":["#00ff00","#ff0000","#000000","#ff00ff","#0000ff"]},"legend":{"orient":"none","legendX":-121,"legendY":7}}}},
 {"mark":{"type":"line","strokeWidth":2,"clip":false},"encoding":{
  "x":{"field":"x","type":"quantitative","scale":{"domain":[240,400],"nice":false,"zero":false},"axis":{"orient":"top","values":[240,260,280,300,320,340,360,380,400],"labels":false,"title":null}},
  "y":{"field":"y","type":"quantitative","scale":{"domain":[0,1],"nice":false},"axis":{"orient":"right","values":[0.25,0.5,0.75,1],"labels":false,"title":null}},
  "color":{"field":"s","type":"nominal","scale":{"domain":["No cut-off","0.004","0.003","0.002","0.0015"],"range":["#00ff00","#ff0000","#000000","#ff00ff","#0000ff"]},"legend":{"orient":"none","legendX":-121,"legendY":7}}}}
 ],"resolve":{"axis":{"x":"independent","y":"independent"}}},
{"width":398,"height":85,"data":{"name":"R3"},"layer":[
 {"mark":{"type":"point","filled":true,"size":50,"opacity":1,"clip":false},"encoding":{
  "x":{"field":"x","type":"quantitative","scale":{"domain":[240,400],"nice":false,"zero":false},"axis":{"values":[240,260,280,300,320,340,360,380,400],"labels":false,"title":null}},
  "y":{"field":"y","type":"quantitative","scale":{"domain":[0,1],"nice":false},"axis":{"values":[0.25,0.5,0.75,1],"labelExpr":"''+datum.value","title":"0.48 MeV/n","titleAngle":0,"titleAlign":"right","titleBaseline":"middle","titlePadding":12,"titleFontSize":12.5}},
  "color":{"field":"s","type":"nominal","scale":{"domain":["No cut-off","0.004","0.003","0.002","0.0015"],"range":["#00ff00","#ff0000","#000000","#ff00ff","#0000ff"]},"legend":{"orient":"none","legendX":410,"legendY":7}}}},
 {"mark":{"type":"line","strokeWidth":2,"clip":false},"encoding":{
  "x":{"field":"x","type":"quantitative","scale":{"domain":[240,400],"nice":false,"zero":false},"axis":{"orient":"top","values":[240,260,280,300,320,340,360,380,400],"labels":false,"title":null}},
  "y":{"field":"y","type":"quantitative","scale":{"domain":[0,1],"nice":false},"axis":{"orient":"right","values":[0.25,0.5,0.75,1],"labels":false,"title":null}},
  "color":{"field":"s","type":"nominal","scale":{"domain":["No cut-off","0.004","0.003","0.002","0.0015"],"range":["#00ff00","#ff0000","#000000","#ff00ff","#0000ff"]},"legend":{"orient":"none","legendX":410,"legendY":7}}}}
 ],"resolve":{"axis":{"x":"independent","y":"independent"}}},
{"width":398,"height":85,"data":{"name":"L4"},"layer":[
 {"mark":{"type":"point","filled":true,"size":50,"opacity":1,"clip":false},"encoding":{
  "x":{"field":"x","type":"quantitative","scale":{"domain":[240,400],"nice":false,"zero":false},"axis":{"values":[240,260,280,300,320,340,360,380,400],"labelPadding":11,"title":null}},
  "y":{"field":"y","type":"quantitative","scale":{"domain":[0,1],"nice":false},"axis":{"values":[0.25,0.5,0.75,1],"labelExpr":"''+datum.value","title":null}},
  "color":{"field":"s","type":"nominal","scale":{"domain":["No cut-off","0.002","0.0015","0.0011","0.001"],"range":["#00ff00","#ff0000","#000000","#ff00ff","#0000ff"]},"legend":{"orient":"none","legendX":-121,"legendY":7}}}},
 {"mark":{"type":"line","strokeWidth":2,"clip":false},"encoding":{
  "x":{"field":"x","type":"quantitative","scale":{"domain":[240,400],"nice":false,"zero":false},"axis":{"orient":"top","values":[240,260,280,300,320,340,360,380,400],"labels":false,"title":null}},
  "y":{"field":"y","type":"quantitative","scale":{"domain":[0,1],"nice":false},"axis":{"orient":"right","values":[0.25,0.5,0.75,1],"labels":false,"title":null}},
  "color":{"field":"s","type":"nominal","scale":{"domain":["No cut-off","0.002","0.0015","0.0011","0.001"],"range":["#00ff00","#ff0000","#000000","#ff00ff","#0000ff"]},"legend":{"orient":"none","legendX":-121,"legendY":7}}}}
 ],"resolve":{"axis":{"x":"independent","y":"independent"}}},
{"width":398,"height":85,"data":{"name":"R4"},"layer":[
 {"mark":{"type":"point","filled":true,"size":50,"opacity":1,"clip":false},"encoding":{
  "x":{"field":"x","type":"quantitative","scale":{"domain":[240,400],"nice":false,"zero":false},"axis":{"values":[240,260,280,300,320,340,360,380,400],"labelPadding":11,"title":null}},
  "y":{"field":"y","type":"quantitative","scale":{"domain":[0,1],"nice":false},"axis":{"values":[0.25,0.5,0.75,1],"labelExpr":"''+datum.value","title":"0.96 MeV/n","titleAngle":0,"titleAlign":"right","titleBaseline":"middle","titlePadding":12,"titleFontSize":12.5}},
  "color":{"field":"s","type":"nominal","scale":{"domain":["No cut-off","0.002","0.0015","0.0011","0.001"],"range":["#00ff00","#ff0000","#000000","#ff00ff","#0000ff"]},"legend":{"orient":"none","legendX":410,"legendY":7}}}},
 {"mark":{"type":"line","strokeWidth":2,"clip":false},"encoding":{
  "x":{"field":"x","type":"quantitative","scale":{"domain":[240,400],"nice":false,"zero":false},"axis":{"orient":"top","values":[240,260,280,300,320,340,360,380,400],"labels":false,"title":null}},
  "y":{"field":"y","type":"quantitative","scale":{"domain":[0,1],"nice":false},"axis":{"orient":"right","values":[0.25,0.5,0.75,1],"labels":false,"title":null}},
  "color":{"field":"s","type":"nominal","scale":{"domain":["No cut-off","0.002","0.0015","0.0011","0.001"],"range":["#00ff00","#ff0000","#000000","#ff00ff","#0000ff"]},"legend":{"orient":"none","legendX":410,"legendY":7}}}}
 ],"resolve":{"axis":{"x":"independent","y":"independent"}}}
]
}]
}
